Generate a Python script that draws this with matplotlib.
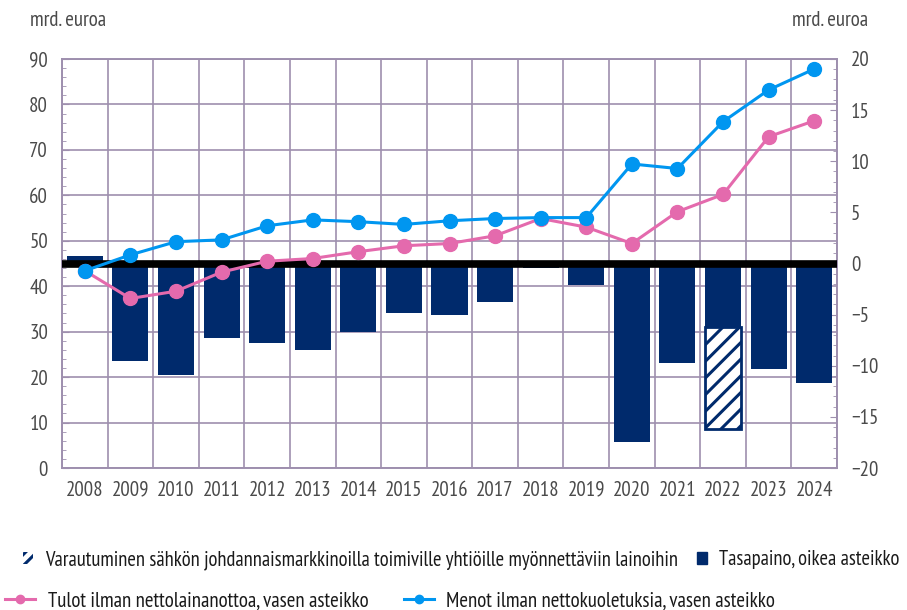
import matplotlib
matplotlib.use("Agg")
import matplotlib.pyplot as plt
from matplotlib import font_manager
import numpy as np
from matplotlib.patches import Patch
from matplotlib.lines import Line2D

available = {f.name for f in font_manager.fontManager.ttflist}
FONT = next((f for f in ['PT Sans Narrow', 'Fira Sans Condensed', 'Roboto Condensed',
                         'Asap Condensed', 'Archivo Narrow', 'Barlow Semi Condensed']
             if f in available), 'DejaVu Sans')
plt.rcParams['font.family'] = [FONT, 'DejaVu Sans']
plt.rcParams['hatch.linewidth'] = 2.2

years = [str(y) for y in range(2008, 2025)]
balance = [0.7, -9.5, -10.9, -7.25, -7.8, -8.5, -6.7, -4.8, -5.0, -3.8, -0.4, -2.1,
           -17.5, -9.7, -6.2, -10.3, -11.65]
provision = [0, 0, 0, 0, 0, 0, 0, 0, 0, 0, 0, 0, 0, 0, -10.0, 0, 0]
revenue = [43.4, 37.3, 38.9, 43.1, 45.5, 46.1, 47.6, 48.9, 49.4, 51.1, 54.9, 53.0,
           49.4, 56.4, 60.2, 72.9, 76.4]
spending = [43.4, 46.9, 49.8, 50.2, 53.3, 54.6, 54.2, 53.6, 54.4, 54.9, 55.1, 55.1,
            66.9, 65.9, 76.2, 83.2, 87.8]

left_ticks = list(range(0, 91, 10))
right_ticks = list(range(-20, 21, 5))

NAVY = '#002a6c'
BLUE = '#0096f0'
PINK = '#e46aad'
GRID = '#9e8fae'
TXT = '#4a4a4a'
FS = 15

fig = plt.figure(figsize=(9.07, 6.10), dpi=100)
ax = fig.add_axes([62/907, 1-468/610, (837-62)/907, (468-59)/610])
x = np.arange(len(years))

ax.set_xlim(-0.5, len(years)-0.5)
ax.set_ylim(0, 90)
ax.set_yticks(left_ticks)
ax.set_yticks(np.arange(0, 91, 2), minor=True)
ax.set_xticks(x)
ax.set_xticklabels(years)
ax.set_xticks(np.arange(-0.5, len(years), 1), minor=True)
ax.grid(axis='y', which='major', color=GRID, lw=1.2)
ax.grid(axis='x', which='minor', color=GRID, lw=1.2)
ax.set_axisbelow(True)
ax.tick_params(axis='y', which='major', direction='in', length=5, color=GRID,
               labelsize=FS, labelcolor=TXT, pad=10)
ax.tick_params(axis='y', which='minor', direction='in', length=3, color=GRID)
ax.tick_params(axis='x', which='both', length=0, labelsize=FS, labelcolor=TXT, pad=9)
for s in ax.spines.values():
    s.set_color(GRID)
    s.set_linewidth(1.2)

ax2 = ax.twinx()
ax2.set_ylim(-20, 20)
ax2.set_yticks(right_ticks)
ax2.set_yticks(np.arange(-20, 21, 1), minor=True)
ax2.tick_params(axis='y', which='major', direction='in', length=5, color=GRID,
                labelsize=FS, labelcolor=TXT, pad=10)
ax2.tick_params(axis='y', which='minor', direction='in', length=3, color=GRID)
for s in ax2.spines.values():
    s.set_color(GRID)
    s.set_linewidth(1.2)
bw = 0.79
ax2.bar(x, balance, width=bw, color=NAVY, zorder=2)
ax2.bar(x, provision, width=bw, bottom=[b if p != 0 else 0 for b, p in zip(balance, provision)],
        facecolor='white', edgecolor=NAVY, hatch='//', linewidth=2, zorder=2)
ax2.axhline(0, color='black', lw=5.5, zorder=3)

ax3 = ax.twinx()
ax3.set_ylim(0, 90)
ax3.axis('off')
ax3.plot(x, revenue, color=PINK, lw=2.2, marker='o', ms=10, zorder=4)
ax3.plot(x, spending, color=BLUE, lw=2.2, marker='o', ms=10, zorder=5)

fig.text(30/907, 1-20/610, 'mrd. euroa', fontsize=FS, color=TXT, va='center', ha='left')
fig.text(868/907, 1-20/610, 'mrd. euroa', fontsize=FS, color=TXT, va='center', ha='right')

h1 = [Patch(facecolor='white', edgecolor=NAVY, hatch='///', linewidth=0),
      Patch(facecolor=NAVY, edgecolor=NAVY)]
l1 = ['Varautuminen sähkön johdannaismarkkinoilla toimiville yhtiöille myönnettäviin lainoihin',
      'Tasapaino, oikea asteikko']
leg1 = fig.legend(h1, l1, ncol=2, loc='center left', bbox_to_anchor=(23/907, 1-560/610),
                  frameon=False, fontsize=14.8, handlelength=0.5, handleheight=0.5,
                  columnspacing=0.95, handletextpad=0.55, borderpad=0, borderaxespad=0,
                  labelcolor='#1a1a1a')
h2 = [Line2D([], [], color=PINK, lw=2.2, marker='o', ms=6),
      Line2D([], [], color=BLUE, lw=2.2, marker='o', ms=6)]
l2 = ['Tulot ilman nettolainanottoa, vasen asteikko',
      'Menot ilman nettokuoletuksia, vasen asteikko']
leg2 = fig.legend(h2, l2, ncol=2, loc='center left', bbox_to_anchor=(5/907, 1-601/610),
                  frameon=False, fontsize=FS, handlelength=1.45,
                  columnspacing=1.7, handletextpad=0.6, borderpad=0, borderaxespad=0,
                  labelcolor='#1a1a1a')

fig.savefig('out.png', dpi=100)
